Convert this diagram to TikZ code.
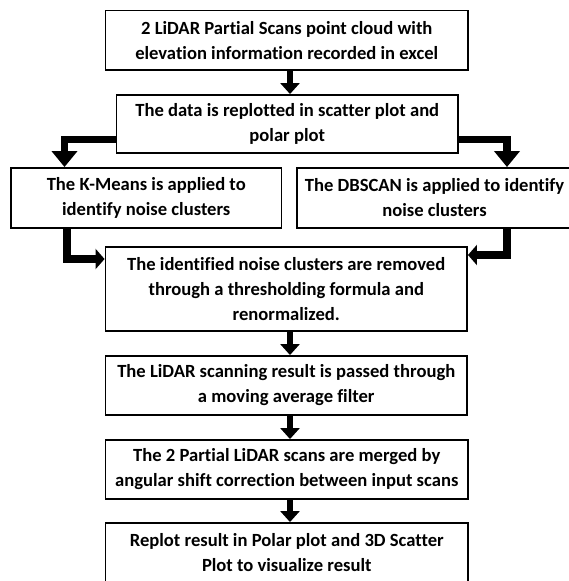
\documentclass[tikz,border=0pt]{standalone}
\usepackage{fontspec}
\setmainfont[Ligatures={NoCommon}]{Carlito}
\usetikzlibrary{arrows.meta}
\tikzset{
  box/.style={draw=black, line width=1.9pt, fill=white, align=center, inner sep=0pt,
    font=\bfseries\fontsize{18.6}{25}\selectfont},
  downarrow/.style={line width=6.5pt, -{Triangle[length=11pt,width=19pt]}},
  bigarrow/.style={line width=7.5pt, line join=miter, -{Triangle[length=16pt,width=25pt]}},
  smallarrow/.style={line width=8pt, line join=miter, -{Triangle[length=9pt,width=20pt]}}
}
\begin{document}
\begin{tikzpicture}[x=1pt,y=-1pt]
\useasboundingbox (0,0) rectangle (569,581);
\node[box, minimum width=362.5pt, minimum height=59.5pt] (b1) at (286.75,40.25)
  {2 LiDAR Partial Scans point cloud with\\elevation information recorded in excel};
\node[box, minimum width=341.5pt, minimum height=58pt] (b2) at (287.25,124)
  {The data is replotted in scatter plot and\\polar plot};
\node[box, minimum width=270.5pt, minimum height=60pt] (b3) at (146.25,198)
  {The K-Means is applied to\\identify noise clusters};
\node[box, minimum width=275pt, minimum height=60pt] (b4) at (434.5,198)
  {The DBSCAN is applied to identify\\noise clusters};
\node[box, minimum width=361.5pt, minimum height=84pt] (b5) at (286.25,289)
  {The identified noise clusters are removed\\through a thresholding formula and\\renormalized.};
\node[box, minimum width=361.5pt, minimum height=59pt] (b6) at (286.25,385.5)
  {The LiDAR scanning result is passed through\\a moving average filter};
\node[box, minimum width=362.5pt, minimum height=59pt] (b7) at (286.75,469.5)
  {The 2 Partial LiDAR scans are merged by\\angular shift correction between input scans};
\node[box, minimum width=362.5pt, minimum height=60pt] (b8) at (286.75,553)
  {Replot result in Polar plot and 3D Scatter\\Plot to visualize result};
\coordinate (cx) at (290,0);
\coordinate (k1) at (64.5,139.5);
\coordinate (k2) at (507,139.5);
\coordinate (k3) at (67,259);
\coordinate (k4) at (507,255);
\draw[downarrow] (b1.south -| cx) -- (b2.north -| cx);
\draw[bigarrow] (b2.west |- k1) -| (b3.north -| k1);
\draw[bigarrow] (b2.east |- k2) -| (b4.north -| k2);
\draw[smallarrow] (b3.south -| k3) |- (b5.west |- k3);
\draw[smallarrow] (b4.south -| k4) |- (b5.east |- k4);
\draw[downarrow] (b5.south -| cx) -- (b6.north -| cx);
\draw[downarrow] (b6.south -| cx) -- (b7.north -| cx);
\draw[downarrow] (b7.south -| cx) -- (b8.north -| cx);
\end{tikzpicture}
\end{document}
